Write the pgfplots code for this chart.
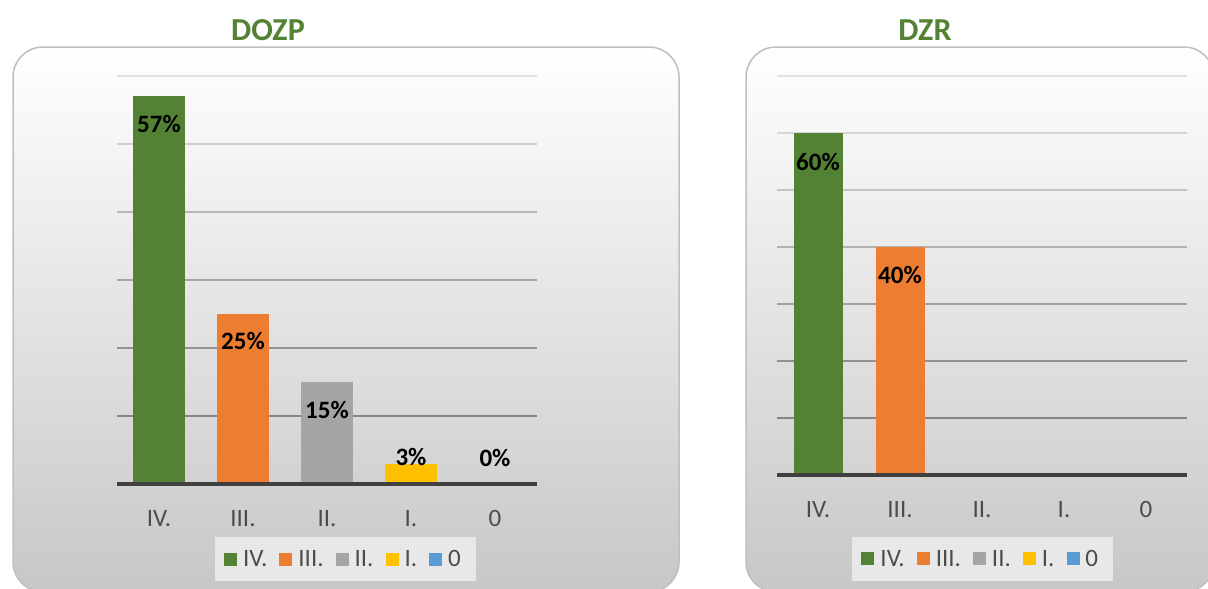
\documentclass[border=0pt]{standalone}
\usepackage{pgfplots}
\pgfplotsset{compat=1.18}
\usepackage{fontspec}
\setmainfont{Carlito}
\definecolor{cgreen}{RGB}{84,130,53}
\definecolor{corange}{RGB}{237,125,49}
\definecolor{cgray}{RGB}{165,165,165}
\definecolor{cyellow}{RGB}{255,192,0}
\definecolor{cblue}{RGB}{91,155,213}
\definecolor{ctitle}{RGB}{84,130,53}
\pgfplotsset{
  mybars/.style={
    scale only axis, clip=false,
    ybar, bar shift=0pt,
    /pgf/number format/assume math mode=true,
    xmin=-0.5, xmax=4.5, ymin=0,
    xtick={0,1,2,3,4}, xticklabels={IV.,III.,II.,I.,0},
    ytick=\empty,
    axis line style={draw=none},
    tick style={draw=none},
    xticklabel style={anchor=base, yshift=-38pt, text=black!70, font=\fontsize{25}{29}\selectfont},
    legend columns=5,
    legend image code/.code={\fill[##1,draw=none] (0pt,-6.5pt) rectangle (13pt,6.5pt);},
    legend style={draw=none, fill=black!9, inner xsep=9pt, inner ysep=12pt,
      font=\fontsize{25}{29}\selectfont, text=black!70,
      nodes={inner xsep=6pt, inner ysep=1pt},
      /tikz/every even column/.append style={column sep=6pt}},
    lab/.style={nodes near coords={\pgfmathprintnumber{\pgfplotspointmeta}\%},
      every node near coord/.style={anchor=center, yshift=##1, text=black,
        font=\bfseries\fontsize{25}{29}\selectfont}},
  }
}
\begin{document}
\begin{tikzpicture}
\useasboundingbox (0pt,0pt) rectangle (1208pt,-589pt);
% panels
\shade[top color=white, bottom color=black!22, rounded corners=30pt]
  (13pt,-47pt) rectangle (679pt,-592pt);
\draw[black!25, line width=1.5pt, rounded corners=30pt]
  (13pt,-47pt) rectangle (679pt,-592pt);
\shade[top color=white, bottom color=black!22, rounded corners=30pt]
  (746pt,-47pt) rectangle (1214pt,-592pt);
\draw[black!25, line width=1.5pt, rounded corners=30pt]
  (746pt,-47pt) rectangle (1214pt,-592pt);
% titles
\node[anchor=base, text=ctitle, font=\bfseries\fontsize{32}{36}\selectfont] at (268pt,-40pt) {DOZP};
\node[anchor=base, text=ctitle, font=\bfseries\fontsize{32}{36}\selectfont] at (925pt,-40pt) {DZR};

% ---------- DOZP ----------
\begin{axis}[mybars, at={(117pt,-484pt)}, anchor=south west,
  width=420pt, height=408pt, ymax=60, bar width=52pt,
  legend style={at={(0.544,-0.184)}, anchor=center}]
\draw[black!48, line width=2pt] (axis cs:-0.5,10) -- (axis cs:4.5,10);
\draw[black!42, line width=2pt] (axis cs:-0.5,20) -- (axis cs:4.5,20);
\draw[black!35, line width=2pt] (axis cs:-0.5,30) -- (axis cs:4.5,30);
\draw[black!28, line width=2pt] (axis cs:-0.5,40) -- (axis cs:4.5,40);
\draw[black!19, line width=2pt] (axis cs:-0.5,50) -- (axis cs:4.5,50);
\draw[black!11, line width=2pt] (axis cs:-0.5,60) -- (axis cs:4.5,60);
\addplot[fill=cgreen, draw=none, lab=-28pt] coordinates {(0,57)};
\addplot[fill=corange, draw=none, lab=-27pt] coordinates {(1,25)};
\addplot[fill=cgray, draw=none, lab=-28pt] coordinates {(2,15)};
\addplot[fill=cyellow, draw=none, lab=7pt] coordinates {(3,3)};
\addplot[fill=cblue, draw=none, lab=26pt] coordinates {(4,0)};
\legend{IV.,III.,II.,I.,0}
\draw[black!75, line width=4pt] (axis cs:-0.5,0) -- (axis cs:4.5,0);
\end{axis}

% ---------- DZR ----------
\begin{axis}[mybars, at={(777pt,-475pt)}, anchor=south west,
  width=410pt, height=399pt, ymax=70, bar width=49pt,
  legend style={at={(0.502,-0.2105)}, anchor=center}]
\draw[black!48, line width=2pt] (axis cs:-0.5,10) -- (axis cs:4.5,10);
\draw[black!43, line width=2pt] (axis cs:-0.5,20) -- (axis cs:4.5,20);
\draw[black!37, line width=2pt] (axis cs:-0.5,30) -- (axis cs:4.5,30);
\draw[black!30, line width=2pt] (axis cs:-0.5,40) -- (axis cs:4.5,40);
\draw[black!23, line width=2pt] (axis cs:-0.5,50) -- (axis cs:4.5,50);
\draw[black!16, line width=2pt] (axis cs:-0.5,60) -- (axis cs:4.5,60);
\draw[black!11, line width=2pt] (axis cs:-0.5,70) -- (axis cs:4.5,70);
\addplot[fill=cgreen, draw=none, lab=-29pt] coordinates {(0,60)};
\addplot[fill=corange, draw=none, lab=-28pt] coordinates {(1,40)};
\addlegendimage{fill=cgray, draw=none}
\addlegendimage{fill=cyellow, draw=none}
\addlegendimage{fill=cblue, draw=none}
\legend{IV.,III.,II.,I.,0}
\draw[black!75, line width=4pt] (axis cs:-0.5,0) -- (axis cs:4.5,0);
\end{axis}
\end{tikzpicture}
\end{document}
